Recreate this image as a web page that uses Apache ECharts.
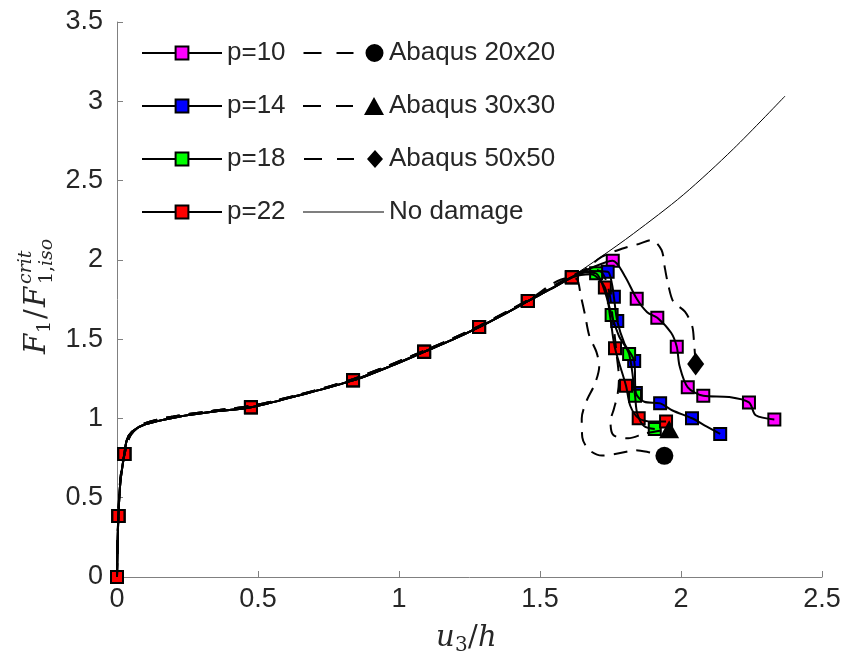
<!DOCTYPE html>
<html>
<head>
<meta charset="utf-8">
<script src="https://cdn.jsdelivr.net/npm/echarts@6.0.0/dist/echarts.min.js"></script>
<style>
html, body { margin: 0; padding: 0; background: #fff; }
#chart { width: 847px; height: 664px; }
</style>
</head>
<body>
<div id="chart"></div>
<script>
// loading path shared by all p curves (solid)
var sharedPath = [[0, 0], [0.002, 0.2], [0.005, 0.385], [0.012, 0.6], [0.026, 0.776], [0.035, 0.864],
    [0.053, 0.916], [0.1, 0.963], [0.219, 1.011], [0.337, 1.042], [0.475, 1.07], [0.65, 1.148],
    [0.837, 1.24], [0.97, 1.33], [1.089, 1.42], [1.19, 1.497], [1.284, 1.576], [1.37, 1.655],
    [1.457, 1.74], [1.54, 1.818], [1.613, 1.89]];
var sharedMarks = [[0, 0], [0.005, 0.385], [0.026, 0.776], [0.475, 1.07], [0.837, 1.24],
    [1.089, 1.42], [1.284, 1.576], [1.457, 1.74], [1.613, 1.89]];

// post-peak branches
var p10Path = [[1.69, 1.955], [1.758, 1.994], [1.8, 1.9], [1.843, 1.755], [1.88, 1.67], [1.916, 1.635],
    [1.965, 1.54], [1.985, 1.452], [1.995, 1.33], [2.024, 1.196], [2.079, 1.143], [2.17, 1.135],
    [2.241, 1.101], [2.265, 1.02], [2.331, 0.994]];
var p10Marks = [[1.758, 1.994], [1.843, 1.755], [1.916, 1.635], [1.985, 1.452], [2.024, 1.196],
    [2.079, 1.143], [2.241, 1.101], [2.331, 0.994]];

var p14Path = [[1.68, 1.93], [1.74, 1.925], [1.755, 1.85], [1.762, 1.767], [1.774, 1.614], [1.8, 1.47],
    [1.834, 1.362], [1.84, 1.16], [1.87, 1.105], [1.926, 1.095], [1.97, 1.05], [2.039, 1.001],
    [2.09, 0.95], [2.139, 0.902]];
var p14Marks = [[1.74, 1.925], [1.762, 1.767], [1.774, 1.614], [1.834, 1.362], [1.84, 1.16],
    [1.926, 1.095], [2.039, 1.001], [2.139, 0.902]];

var p18Path = [[1.66, 1.92], [1.699, 1.915], [1.73, 1.8], [1.754, 1.652], [1.78, 1.52], [1.816, 1.406],
    [1.837, 1.143], [1.845, 1.03], [1.87, 0.95], [1.907, 0.933]];
var p18Marks = [[1.699, 1.915], [1.754, 1.652], [1.816, 1.406], [1.837, 1.143], [1.907, 0.933]];

var p22Path = [[1.68, 1.91], [1.73, 1.826], [1.748, 1.65], [1.766, 1.442], [1.805, 1.206], [1.82, 1.08],
    [1.85, 1.001], [1.9, 0.98], [1.947, 0.98]];
var p22Marks = [[1.73, 1.826], [1.766, 1.442], [1.805, 1.206], [1.85, 1.001], [1.947, 0.98]];

// Abaqus reference curves (dashed), marker only at the last point
var abaqusShared = [[0, 0], [0.003, 0.3], [0.012, 0.62], [0.03, 0.8], [0.05, 0.9], [0.1, 0.97],
    [0.2, 1.012], [0.337, 1.047], [0.475, 1.079], [0.65, 1.152], [0.837, 1.248], [1.089, 1.426],
    [1.284, 1.582], [1.457, 1.745], [1.6, 1.885]];
var abaqus20Path = [[1.63, 1.88], [1.645, 1.77], [1.66, 1.65], [1.675, 1.52], [1.7, 1.42], [1.71, 1.33],
    [1.695, 1.22], [1.665, 1.11], [1.648, 1.0], [1.65, 0.88], [1.675, 0.8], [1.72, 0.766],
    [1.78, 0.78], [1.84, 0.8], [1.89, 0.785], [1.941, 0.764]];
var abaqus30Path = [[1.68, 1.94], [1.72, 1.92], [1.745, 1.8], [1.76, 1.6], [1.772, 1.4], [1.78, 1.25],
    [1.775, 1.15], [1.762, 1.06], [1.75, 0.98], [1.76, 0.895], [1.813, 0.875], [1.872, 0.905],
    [1.958, 0.932]];
var abaqus50Path = [[1.66, 1.94], [1.72, 2.02], [1.79, 2.07], [1.85, 2.1], [1.896, 2.125], [1.931, 2.062],
    [1.943, 1.946], [1.955, 1.84], [1.973, 1.736], [2.014, 1.673], [2.04, 1.58], [2.046, 1.484],
    [2.052, 1.343]];

// elastic curve without damage
var noDamagePath = [[0, 0], [0.002, 0.2], [0.005, 0.385], [0.012, 0.6], [0.026, 0.776], [0.035, 0.864],
    [0.053, 0.916], [0.1, 0.963], [0.219, 1.011], [0.337, 1.042], [0.475, 1.07], [0.65, 1.148],
    [0.837, 1.24], [0.97, 1.33], [1.089, 1.42], [1.19, 1.497], [1.284, 1.576], [1.37, 1.655],
    [1.457, 1.74], [1.54, 1.818], [1.613, 1.895], [1.713, 2.015], [1.831, 2.165], [2.008, 2.41],
    [2.186, 2.7], [2.369, 3.033]];

var pNames = ['p=10', 'p=14', 'p=18', 'p=22'];
var pColors = ['#ff00ff', '#0000ff', '#00ff00', '#ff0000'];
var pPaths = [p10Path, p14Path, p18Path, p22Path];
var pMarks = [p10Marks, p14Marks, p18Marks, p22Marks];

var abaqusNames = ['Abaqus 20x20', 'Abaqus 30x30', 'Abaqus 50x50'];
var abaqusPaths = [abaqus20Path, abaqus30Path, abaqus50Path];
var abaqusSymbols = ['circle', 'triangle', 'diamond'];
var abaqusSizes = [18, [20, 18], [17, 23]];
// legend icons: two dashes then the marker at the right end
var abaqusIcons = [
    'path://M0,8H18V10H0ZM33,8H50V10H33ZM62,9A9,9,0,1,1,80,9A9,9,0,1,1,62,9Z',
    'path://M0,8H18V10H0ZM33,8H50V10H33ZM61,18L71,0L81,18Z',
    'path://M0,8H18V10H0ZM33,8H50V10H33ZM71,0L79,9L71,18L63,9Z'
];

var textColor = '#262626';
var axisColor = '#808080';
var sansFont = 'Liberation Sans';
var serifFont = 'DejaVu Serif';

var chart = echarts.init(document.getElementById('chart'), null, { renderer: 'canvas' });

var series = [];
pNames.forEach(function (name, i) {
    series.push({
        type: 'line',
        name: name,
        data: sharedPath.concat(pPaths[i]),
        smooth: 0.3,
        showSymbol: false,
        symbol: 'rect',
        lineStyle: { color: '#000', width: 2 },
        itemStyle: { color: pColors[i], borderColor: '#000', borderWidth: 2 },
        animation: false
    });
    series.push({
        type: 'scatter',
        name: name,
        data: sharedMarks.concat(pMarks[i]),
        symbol: 'rect',
        symbolSize: 12,
        itemStyle: { color: pColors[i], borderColor: '#000', borderWidth: 2, opacity: 1 },
        animation: false
    });
});
abaqusNames.forEach(function (name, i) {
    var path = abaqusShared.concat(abaqusPaths[i]);
    series.push({
        type: 'line',
        name: name,
        data: path,
        smooth: 0.3,
        showSymbol: false,
        symbol: abaqusSymbols[i],
        lineStyle: { color: '#000', width: 2, type: [14, 9] },
        itemStyle: { color: '#000' },
        animation: false
    });
    series.push({
        type: 'scatter',
        name: name,
        data: [path[path.length - 1]],
        symbol: abaqusSymbols[i],
        symbolSize: abaqusSizes[i],
        itemStyle: { color: '#000', opacity: 1 },
        animation: false
    });
});
series.push({
    type: 'line',
    name: 'No damage',
    data: noDamagePath,
    smooth: 0.3,
    showSymbol: false,
    symbol: 'none',
    lineStyle: { color: '#000', width: 1 },
    itemStyle: { color: '#000' },
    animation: false
});

var legendText = { color: textColor, fontSize: 26, fontFamily: sansFont, lineHeight: 26 };

var option = {
    backgroundColor: '#fff',
    animation: false,
    grid: { left: 117, right: 25, top: 22, bottom: 87, outerBoundsMode: 'none' },
    xAxis: {
        type: 'value', min: 0, max: 2.5, interval: 0.5,
        axisLine: { show: true, onZero: false, lineStyle: { color: axisColor, width: 1 } },
        axisTick: { show: true, inside: true, length: 6, lineStyle: { color: axisColor } },
        axisLabel: { color: textColor, fontSize: 27, fontFamily: sansFont, margin: 9 },
        splitLine: { show: false }
    },
    yAxis: {
        type: 'value', min: 0, max: 3.5, interval: 0.5,
        axisLine: { show: true, onZero: false, lineStyle: { color: axisColor, width: 1 } },
        axisTick: { show: true, inside: true, length: 6, lineStyle: { color: axisColor } },
        axisLabel: { color: textColor, fontSize: 27, fontFamily: sansFont, margin: 14 },
        splitLine: { show: false }
    },
    legend: [{
        orient: 'vertical', left: 141, top: 40, padding: 0,
        itemWidth: 80, itemHeight: 16, itemGap: 27,
        selectedMode: false,
        textStyle: legendText,
        data: pNames.map(function (name, i) {
            return {
                name: name,
                itemStyle: { color: pColors[i], borderColor: '#000', borderWidth: 2 },
                lineStyle: { color: '#000', width: 2 }
            };
        })
    }, {
        orient: 'vertical', left: 303, top: 40, padding: 0,
        itemWidth: 81, itemHeight: 18, itemGap: 27,
        selectedMode: false,
        textStyle: legendText,
        data: abaqusNames.map(function (name, i) {
            return { name: name, icon: abaqusIcons[i], itemStyle: { color: '#000', borderWidth: 0 } };
        }).concat([{
            name: 'No damage',
            icon: 'path://M0,8.5H80V9.5H0Z',
            itemStyle: { color: '#000', borderWidth: 0 }
        }])
    }],
    graphic: [{
        // x axis title u_3/h
        type: 'group', x: 468, y: 638,
        children: [
            { type: 'text', x: -32, y: 0, style: { text: 'u', fontSize: 29, fontStyle: 'italic', fontFamily: serifFont, fill: textColor, verticalAlign: 'middle' } },
            { type: 'text', x: -13, y: 8, style: { text: '3', fontSize: 20, fontFamily: serifFont, fill: textColor, verticalAlign: 'middle' } },
            { type: 'text', x: 0, y: 0, style: { text: '/', fontSize: 29, fontFamily: serifFont, fill: textColor, verticalAlign: 'middle' } },
            { type: 'text', x: 10, y: 0, style: { text: 'h', fontSize: 29, fontStyle: 'italic', fontFamily: serifFont, fill: textColor, verticalAlign: 'middle' } }
        ]
    }, {
        // y axis title F_1/F_{1,iso}^{crit}
        type: 'group', x: 37, y: 293, rotation: Math.PI / 2,
        children: [
            { type: 'text', x: -61, y: 0, style: { text: 'F', fontSize: 29, fontStyle: 'italic', fontFamily: serifFont, fill: textColor, verticalAlign: 'middle' } },
            { type: 'text', x: -40, y: 8, style: { text: '1', fontSize: 19, fontFamily: serifFont, fill: textColor, verticalAlign: 'middle' } },
            { type: 'text', x: -26, y: 0, style: { text: '/', fontSize: 29, fontFamily: serifFont, fill: textColor, verticalAlign: 'middle' } },
            { type: 'text', x: -14, y: 0, style: { text: 'F', fontSize: 29, fontStyle: 'italic', fontFamily: serifFont, fill: textColor, verticalAlign: 'middle' } },
            { type: 'text', x: 9, y: -11, style: { text: 'crit', fontSize: 19, fontStyle: 'italic', fontFamily: serifFont, fill: textColor, verticalAlign: 'middle' } },
            { type: 'text', x: 9, y: 10, style: { text: '1,', fontSize: 19, fontFamily: serifFont, fill: textColor, verticalAlign: 'middle' } },
            { type: 'text', x: 27, y: 10, style: { text: 'iso', fontSize: 19, fontStyle: 'italic', fontFamily: serifFont, fill: textColor, verticalAlign: 'middle' } }
        ]
    }],
    series: series
};

chart.setOption(option);
</script>
</body>
</html>
